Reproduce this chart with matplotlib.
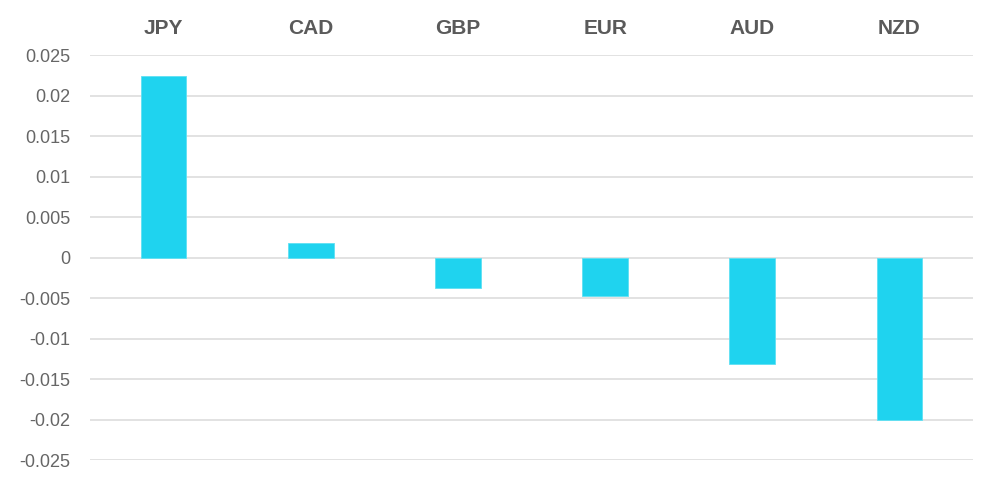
import numpy as np
import matplotlib
matplotlib.use('Agg')
import matplotlib.pyplot as plt

currencies = ['JPY', 'CAD', 'GBP', 'EUR', 'AUD', 'NZD']
values = [0.0224, 0.0018, -0.0038, -0.0048, -0.0132, -0.0200]
yticks = [0.025, 0.02, 0.015, 0.01, 0.005, 0, -0.005, -0.01, -0.015, -0.02, -0.025]

plt.rcParams['font.family'] = ['Liberation Sans', 'DejaVu Sans']

fig = plt.figure(figsize=(10, 4.87), dpi=100)
ax = fig.add_axes([0.09, 0.0554, 0.883, 0.8316])

x = np.arange(len(currencies))
ax.bar(x, values, width=0.31, color='#1fd3ef', edgecolor='#5fe0f3', linewidth=0.6, zorder=3)

ax.set_xlim(-0.5, len(currencies) - 0.5)
ax.set_ylim(-0.025, 0.025)
ax.set_yticks(yticks)
ax.set_yticklabels(['0' if t == 0 else ('%g' % t) for t in yticks])
ax.grid(axis='y', color='#e2e2e2', linewidth=1.4, zorder=0)
ax.grid(axis='x', visible=False)

ax.xaxis.tick_top()
ax.set_xticks(x)
ax.set_xticklabels(currencies, fontsize=15, fontweight='bold', color='#5a5a5a')
ax.tick_params(axis='x', length=0, pad=12)
ax.tick_params(axis='y', length=0, pad=14, labelsize=13, labelcolor='#666666')

for s in ax.spines.values():
    s.set_visible(False)

fig.savefig('out.png', dpi=100)
